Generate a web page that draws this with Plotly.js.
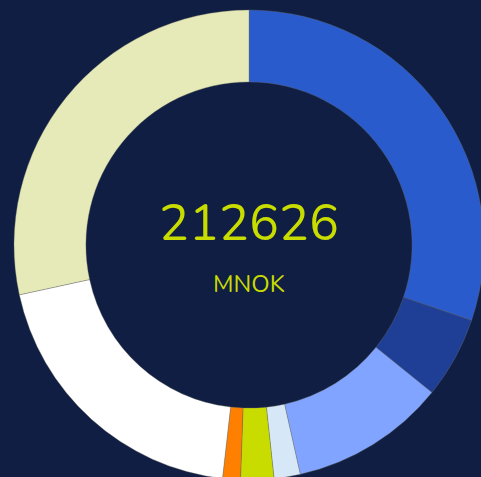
<!DOCTYPE html>
<html>
<head>
<meta charset="utf-8">
<script src="https://cdn.plot.ly/plotly-3.0.1.min.js"></script>
<style>html,body{margin:0;padding:0;background:#0f1e42;overflow:hidden;}#chart{width:490px;height:490px;}</style>
</head>
<body>
<div id="chart"></div>
<script>
const categories = ["A", "B", "C", "D", "E", "F", "G", "H"];
const values = [64213, 11907, 22751, 3827, 4848, 2594, 42100, 60386];
const sliceColors = ["#2a5bcc", "#1f3f96", "#80a4ff", "#d6e8f7", "#c8dc00", "#ff7f00", "#ffffff", "#e6eab8"];
const totalLabel = "212626";
const unitLabel = "MNOK";

const W = 490, H = 490;
const cx = 249, cy = 245, R = 235;

const trace = {
  type: "pie",
  labels: categories,
  values: values,
  sort: false,
  direction: "clockwise",
  rotation: 0,
  hole: 0.694,
  textinfo: "none",
  hoverinfo: "none",
  marker: { colors: sliceColors, line: { color: "rgba(110,110,100,0.7)", width: 0.5 } },
  domain: { x: [(cx - R) / W, (cx + R) / W], y: [(H - cy - R) / H, (H - cy + R) / H] },
  showlegend: false
};

const layout = {
  width: W, height: H,
  margin: { l: 0, r: 0, t: 0, b: 0 },
  paper_bgcolor: "#0f1e42",
  plot_bgcolor: "#0f1e42",
  showlegend: false,
  annotations: [
    { text: totalLabel, x: cx / W, y: 1 - 224 / H, xref: "paper", yref: "paper", showarrow: false,
      xanchor: "center", yanchor: "middle", font: { family: "Nunito, 'Open Sans', sans-serif", size: 50, color: "#c8dc00" } },
    { text: unitLabel, x: cx / W, y: 1 - 284 / H, xref: "paper", yref: "paper", showarrow: false,
      xanchor: "center", yanchor: "middle", font: { family: "Nunito, 'Open Sans', sans-serif", size: 24, color: "#c8dc00" } }
  ]
};

Plotly.newPlot("chart", [trace], layout, { displayModeBar: false, staticPlot: true });
</script>
</body>
</html>
